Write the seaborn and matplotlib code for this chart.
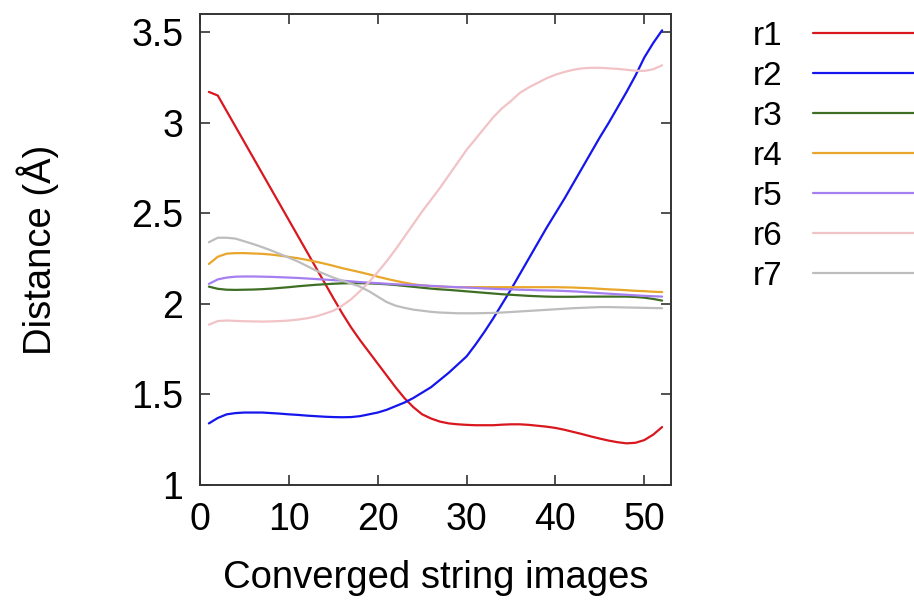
import numpy as np
import pandas as pd
import matplotlib
matplotlib.use("Agg")
import matplotlib.pyplot as plt
from matplotlib.ticker import FuncFormatter
from matplotlib.lines import Line2D
import seaborn as sns

images = list(range(1, 53))

r1 = [3.17, 3.15, 3.064, 2.978, 2.892, 2.806, 2.72, 2.634, 2.548, 2.462,
      2.376, 2.29, 2.204, 2.118, 2.032, 1.948, 1.87, 1.80, 1.735, 1.67,
      1.605, 1.54, 1.48, 1.43, 1.39, 1.367, 1.35, 1.34, 1.335, 1.332,
      1.33, 1.33, 1.33, 1.333, 1.335, 1.335, 1.332, 1.327, 1.322, 1.315,
      1.305, 1.293, 1.281, 1.268, 1.256, 1.245, 1.236, 1.23, 1.233, 1.248,
      1.278, 1.32]
r2 = [1.34, 1.37, 1.39, 1.397, 1.40, 1.40, 1.40, 1.397, 1.394, 1.39,
      1.387, 1.383, 1.38, 1.377, 1.375, 1.374, 1.375, 1.38, 1.39, 1.40,
      1.415, 1.435, 1.455, 1.48, 1.51, 1.54, 1.58, 1.62, 1.665, 1.71,
      1.775, 1.845, 1.92, 2.00, 2.08, 2.165, 2.25, 2.335, 2.42, 2.50,
      2.58, 2.665, 2.75, 2.835, 2.92, 3.00, 3.085, 3.17, 3.26, 3.36,
      3.44, 3.51]
r3 = [2.095, 2.083, 2.078, 2.077, 2.078, 2.079, 2.081, 2.084, 2.088, 2.092,
      2.097, 2.101, 2.105, 2.108, 2.111, 2.113, 2.114, 2.114, 2.113, 2.111,
      2.108, 2.104, 2.099, 2.094, 2.089, 2.084, 2.08, 2.077, 2.073, 2.069,
      2.065, 2.061, 2.057, 2.053, 2.05, 2.047, 2.044, 2.042, 2.04, 2.039,
      2.039, 2.039, 2.04, 2.04, 2.04, 2.04, 2.04, 2.04, 2.038, 2.034,
      2.027, 2.018]
r4 = [2.22, 2.26, 2.277, 2.28, 2.28, 2.278, 2.276, 2.272, 2.266, 2.259,
      2.252, 2.243, 2.233, 2.222, 2.21, 2.197, 2.186, 2.175, 2.163, 2.15,
      2.138, 2.127, 2.117, 2.108, 2.102, 2.098, 2.095, 2.093, 2.092, 2.092,
      2.092, 2.092, 2.092, 2.092, 2.092, 2.092, 2.092, 2.092, 2.092, 2.092,
      2.091, 2.09, 2.088, 2.086, 2.083, 2.08, 2.078, 2.075, 2.072, 2.07,
      2.067, 2.065]
r5 = [2.11, 2.135, 2.145, 2.15, 2.151, 2.151, 2.15, 2.149, 2.147, 2.145,
      2.143, 2.14, 2.137, 2.134, 2.131, 2.128, 2.124, 2.12, 2.117, 2.114,
      2.111, 2.108, 2.106, 2.104, 2.102, 2.099, 2.097, 2.094, 2.092, 2.09,
      2.088, 2.085, 2.083, 2.081, 2.08, 2.078, 2.077, 2.075, 2.074, 2.073,
      2.071, 2.069, 2.066, 2.062, 2.059, 2.056, 2.053, 2.05, 2.047, 2.044,
      2.042, 2.04]
r6 = [1.885, 1.905, 1.908, 1.906, 1.904, 1.903, 1.902, 1.903, 1.905, 1.908,
      1.913, 1.92, 1.93, 1.945, 1.962, 1.99, 2.025, 2.07, 2.12, 2.175,
      2.235, 2.30, 2.37, 2.44, 2.51, 2.575, 2.64, 2.71, 2.78, 2.85,
      2.91, 2.97, 3.03, 3.08, 3.12, 3.165, 3.195, 3.22, 3.245, 3.265,
      3.28, 3.292, 3.30, 3.303, 3.303, 3.30, 3.297, 3.292, 3.287, 3.286,
      3.295, 3.317]
r7 = [2.34, 2.365, 2.365, 2.36, 2.345, 2.33, 2.313, 2.295, 2.275, 2.255,
      2.234, 2.21, 2.185, 2.165, 2.145, 2.128, 2.112, 2.095, 2.07, 2.04,
      2.01, 1.99, 1.978, 1.968, 1.962, 1.956, 1.952, 1.95, 1.948, 1.948,
      1.948, 1.949, 1.95, 1.952, 1.955, 1.958, 1.961, 1.964, 1.967, 1.97,
      1.973, 1.976, 1.978, 1.98, 1.982, 1.982, 1.981, 1.98, 1.979, 1.978,
      1.977, 1.976]

names = ["r1", "r2", "r3", "r4", "r5", "r6", "r7"]
series = [r1, r2, r3, r4, r5, r6, r7]
colors = ["#d8171e", "#1515ee", "#3f6e25", "#e8a62a", "#a57ff0", "#f2c3c6", "#bdbdbd"]
x_ticks = [0, 10, 20, 30, 40, 50]
y_ticks = [1, 1.5, 2, 2.5, 3, 3.5]

df = pd.concat([pd.DataFrame({"image": images, "distance": s, "coord": n})
                for n, s in zip(names, series)], ignore_index=True)

sns.set_style("ticks")
plt.rcParams["font.family"] = ["Liberation Sans", "DejaVu Sans"]
plt.rcParams["text.color"] = "black"
plt.rcParams["axes.labelcolor"] = "black"

fig = plt.figure(figsize=(9.14, 6.07), dpi=100)
ax = fig.add_axes([200 / 914, 1 - 485 / 607, 471 / 914, 471 / 607])

sns.lineplot(data=df, x="image", y="distance", hue="coord",
             palette=dict(zip(names, colors)), linewidth=1.6, ax=ax, legend=False)

ax.set_xlim(0, 53)
ax.set_ylim(1, 3.6)
ax.set_xticks(x_ticks)
ax.set_yticks(y_ticks)
ax.yaxis.set_major_formatter(FuncFormatter(lambda v, p: "%g" % v))
ax.tick_params(direction="in", length=7, width=1.2, top=True, right=True,
               labelsize=27, colors="#333333", labelcolor="black", pad=12)
for sp in ax.spines.values():
    sp.set_visible(True)
    sp.set_linewidth(1.4)
    sp.set_color("#333333")
ax.set_xlabel("Converged string images", fontsize=27.5, labelpad=16, color="black")
ax.set_ylabel("Distance (Å)", fontsize=27.5, labelpad=52, color="black")

handles = [Line2D([], [], color=c, linewidth=1.6) for c in colors]
fig.legend(handles, names, loc="upper left", bbox_to_anchor=(753 / 914, 1 - 21 / 607),
           frameon=False, markerfirst=False, fontsize=24, handlelength=3.8,
           handletextpad=0.9, labelspacing=0.27, borderpad=0, borderaxespad=0,
           labelcolor="black")

fig.savefig("out.png", dpi=100)
